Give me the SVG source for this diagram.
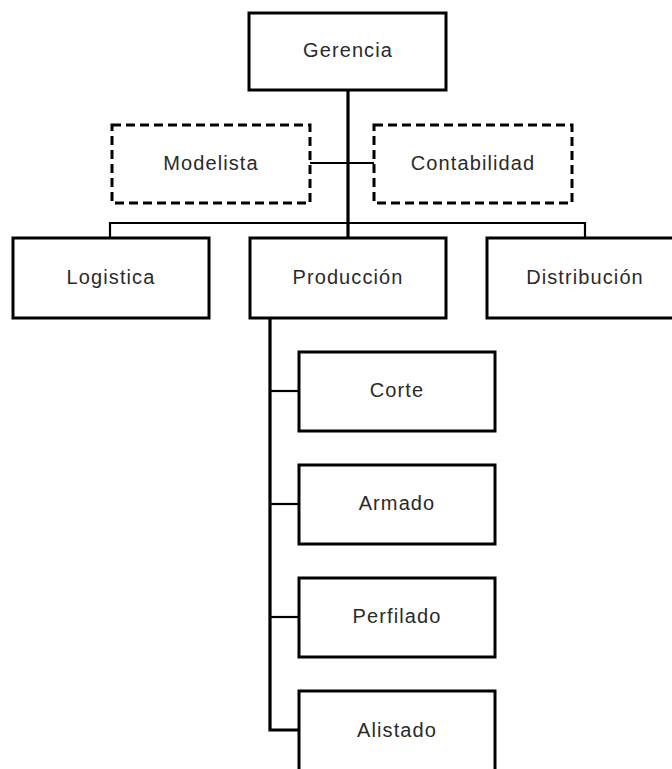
<svg xmlns="http://www.w3.org/2000/svg" width="672" height="769" viewBox="0 0 672 769">
<style>
.box{fill:#fff;stroke:#000;stroke-width:3}
.dash{fill:#fff;stroke:#000;stroke-width:3;stroke-dasharray:9 5}
.lbl{font-family:"Liberation Sans",Arial,sans-serif;font-size:20px;letter-spacing:1.1px;fill:#2a2a2a;text-anchor:middle}
.c{fill:none;stroke:#000;stroke-width:2.2}
.ct{fill:none;stroke:#000;stroke-width:3.2}
</style>
<rect width="672" height="769" fill="#fff"/>
<g id="connectors">
<line class="ct" x1="348" y1="90" x2="348" y2="238"/>
<line class="c" x1="310" y1="163" x2="374" y2="163"/>
<polyline class="c" points="110,238 110,223 585,223 585,238"/>
<polyline class="ct" points="270,318 270,730 299,730"/>
<line class="c" x1="270" y1="391" x2="299" y2="391"/>
<line class="c" x1="270" y1="504" x2="299" y2="504"/>
<line class="c" x1="270" y1="617" x2="299" y2="617"/>
</g>
<g id="gerencia"><rect class="box" x="249" y="13" width="197" height="77"/><text class="lbl" x="348" y="57">Gerencia</text></g>
<g id="modelista"><rect class="dash" x="112" y="125" width="198" height="78"/><text class="lbl" x="211" y="170">Modelista</text></g>
<g id="contabilidad"><rect class="dash" x="374" y="125" width="198" height="78"/><text class="lbl" x="473" y="170">Contabilidad</text></g>
<g id="logistica"><rect class="box" x="13" y="238" width="196" height="80"/><text class="lbl" x="111" y="284">Logistica</text></g>
<g id="produccion"><rect class="box" x="250" y="238" width="196" height="80"/><text class="lbl" x="348" y="284">Producción</text></g>
<g id="distribucion"><rect class="box" x="487" y="238" width="196" height="80"/><text class="lbl" x="585" y="284">Distribución</text></g>
<g id="corte"><rect class="box" x="299" y="352" width="196" height="79"/><text class="lbl" x="397" y="397">Corte</text></g>
<g id="armado"><rect class="box" x="299" y="465" width="196" height="79"/><text class="lbl" x="397" y="510">Armado</text></g>
<g id="perfilado"><rect class="box" x="299" y="578" width="196" height="79"/><text class="lbl" x="397" y="623">Perfilado</text></g>
<g id="alistado"><rect class="box" x="299" y="691" width="196" height="90"/><text class="lbl" x="397" y="737">Alistado</text></g>
</svg>
